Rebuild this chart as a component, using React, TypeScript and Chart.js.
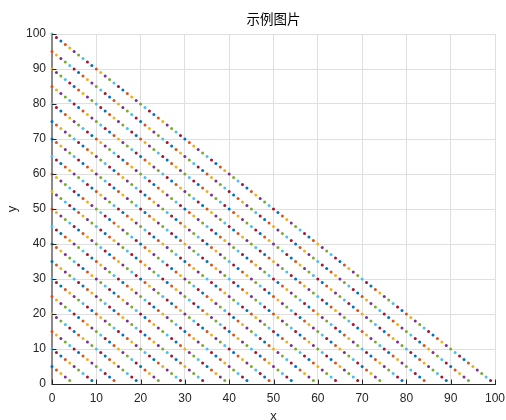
import React, { useEffect, useRef } from "react";
import { Chart, registerables } from "chart.js";

Chart.register(...registerables);

// Each diagonal holds the points with x + y = total, x running 0 .. total-1
const lineTotals = [5, 10, 15, 20, 25, 30, 35, 40, 45, 50, 55, 60, 65, 70, 75, 80, 85, 90, 95, 100];
const xTicks = [0, 10, 20, 30, 40, 50, 60, 70, 80, 90, 100];
const yTicks = [0, 10, 20, 30, 40, 50, 60, 70, 80, 90, 100];
const colorOrder = ["#0072BD", "#D95319", "#EDB120", "#7E2F8E", "#77AC30", "#4DBEEE", "#A2142F"];
const titleText = "示例图片";
const xLabel = "x";
const yLabel = "y";

const FONT = "'Liberation Sans', Arial, Helvetica, sans-serif";
const AXIS_DARK = "#262626";

function buildData() {
  const points: { x: number; y: number }[] = [];
  const colors: string[] = [];
  let k = 0;
  for (const total of lineTotals) {
    for (let x = 0; x < total; x++) {
      points.push({ x, y: total - x });
      colors.push(colorOrder[k % colorOrder.length]);
      k++;
    }
  }
  return { points, colors };
}

const inwardTicks = {
  id: "inwardTicks",
  afterDatasetsDraw(chart: any) {
    const { ctx, chartArea, scales } = chart;
    const len = 4.5;
    ctx.save();
    ctx.strokeStyle = AXIS_DARK;
    ctx.lineWidth = 1;
    ctx.beginPath();
    for (const v of xTicks) {
      const px = Math.round(scales.x.getPixelForValue(v)) + 0.5;
      ctx.moveTo(px, chartArea.bottom);
      ctx.lineTo(px, chartArea.bottom - len);
    }
    for (const v of yTicks) {
      const py = Math.round(scales.y.getPixelForValue(v)) + 0.5;
      ctx.moveTo(chartArea.left, py);
      ctx.lineTo(chartArea.left + len, py);
    }
    ctx.stroke();
    ctx.restore();
  },
};

export default function App() {
  const canvasRef = useRef<HTMLCanvasElement | null>(null);

  useEffect(() => {
    const canvas = canvasRef.current;
    if (!canvas) return;
    const { points, colors } = buildData();
    const chart = new Chart(canvas, {
      type: "scatter",
      data: {
        datasets: [
          {
            data: points,
            pointBackgroundColor: colors,
            pointBorderWidth: 0,
            pointRadius: 1.5,
            pointHoverRadius: 1.5,
            showLine: false,
            clip: false,
          } as any,
        ],
      },
      options: {
        responsive: false,
        animation: false,
        events: [],
        layout: { padding: { left: 0, right: 11, top: 0, bottom: 0 } },
        plugins: {
          legend: { display: false },
          tooltip: { enabled: false },
          title: {
            display: true,
            text: titleText,
            fullSize: false,
            color: "#000000",
            font: { family: "'Noto Sans CJK SC', sans-serif", size: 13.5, weight: "normal", lineHeight: 1.2 },
            padding: { top: 11, bottom: 6.8 },
          },
        },
        scales: {
          x: {
            type: "linear",
            min: 0,
            max: 100,
            afterBuildTicks: (s: any) => {
              s.ticks = xTicks.map((v) => ({ value: v }));
            },
            afterFit: (s: any) => {
              s.height = 36;
              s.paddingLeft = 0;
              s.paddingRight = 0;
            },
            ticks: {
              color: AXIS_DARK,
              padding: 7,
              maxRotation: 0,
              autoSkip: false,
              font: { family: FONT, size: 12 },
            },
            grid: { color: "#dfdfdf", drawTicks: false, lineWidth: 1 },
            border: { display: true, color: AXIS_DARK, width: 1 },
            title: {
              display: true,
              text: xLabel,
              color: AXIS_DARK,
              font: { family: FONT, size: 13 },
              padding: { top: 0, bottom: -4 },
            },
          },
          y: {
            type: "linear",
            min: 0,
            max: 100,
            afterBuildTicks: (s: any) => {
              s.ticks = yTicks.map((v) => ({ value: v }));
            },
            afterFit: (s: any) => {
              s.width = 52;
              s.paddingTop = 0;
              s.paddingBottom = 0;
            },
            ticks: {
              color: AXIS_DARK,
              padding: 6,
              autoSkip: false,
              font: { family: FONT, size: 12 },
            },
            grid: { color: "#dfdfdf", drawTicks: false, lineWidth: 1 },
            border: { display: true, color: "#8a8a8a", width: 2 },
            title: {
              display: true,
              text: yLabel,
              color: AXIS_DARK,
              font: { family: FONT, size: 13 },
              padding: { top: 5, bottom: 0 },
            },
          },
        },
      },
      plugins: [inwardTicks],
    });
    return () => chart.destroy();
  }, []);

  return (
    <div style={{ position: "absolute", left: 0, top: 0, width: 506, height: 420, background: "#ffffff" }}>
      <canvas ref={canvasRef} width={506} height={420} style={{ display: "block", width: 506, height: 420 }} />
    </div>
  );
}
